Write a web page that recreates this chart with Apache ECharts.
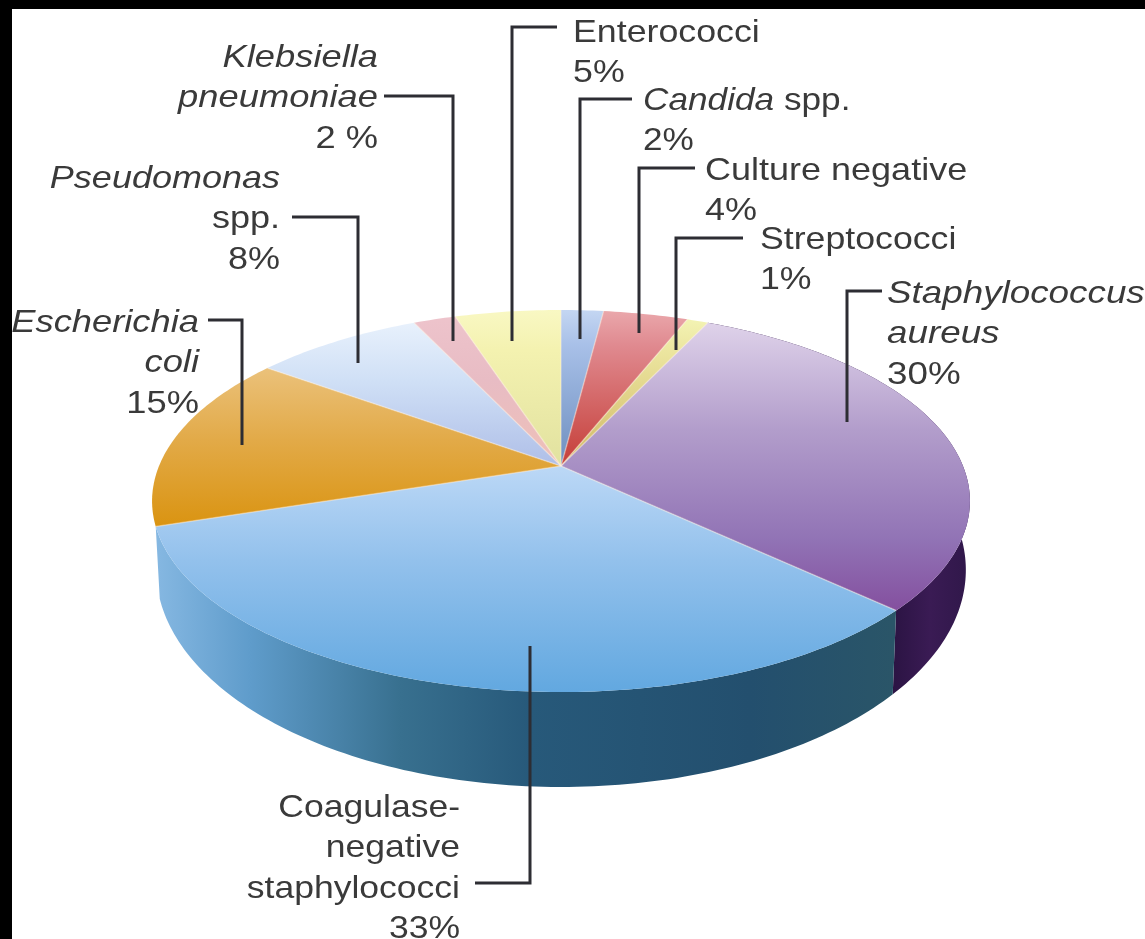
<!DOCTYPE html>
<html>
<head>
<meta charset="utf-8">
<style>html,body{margin:0;padding:0;background:#000}#c{width:1145px;height:939px;filter:blur(0.7px)}</style>
<script src="https://cdn.jsdelivr.net/npm/echarts@6/dist/echarts.min.js"></script>
</head>
<body>
<div id="c"></div>
<script>
// ---- data, clockwise from 12 o'clock ----
const categories = ['Candida spp.', 'Culture negative', 'Streptococci', 'Staphylococcus aureus',
  'Coagulase-negative staphylococci', 'Escherichia coli', 'Pseudomonas spp.', 'Klebsiella pneumoniae', 'Enterococci'];
const shares = [2, 4, 1, 30, 33, 15, 8, 2, 5];
const labelTexts = [
  '{i|Candida} {n|spp.}\n{n|2%}',
  '{n|Culture negative}\n{n|4%}',
  '{n|Streptococci}\n{n|1%}',
  '{i|Staphylococcus}\n{i|aureus}\n{n|30%}',
  '{n|Coagulase-}\n{n|negative}\n{n|staphylococci}\n{n|33%}',
  '{i|Escherichia}\n{i|coli}\n{n|15%}',
  '{i|Pseudomonas}\n{n|spp.}\n{n|8%}',
  '{i|Klebsiella}\n{i|pneumoniae}\n{n|2 %}',
  '{n|Enterococci}\n{n|5%}'
];

// ---- styles ----
const topStops = [
  [[310,'#c4d6f2'],[345,'#a8c0e8'],[462,'#6f90c0']],
  [[310,'#eaa8ac'],[345,'#e08a90'],[462,'#c6403a']],
  [[318,'#f3f3b4'],[350,'#ece6a0'],[462,'#d0b868']],
  [[322,'#dfd3ea'],[430,'#b29dcb'],[540,'#9173b5'],[610,'#84509f']],
  [[466,'#bcd8f6'],[560,'#93c1ec'],[692,'#62a8e0']],
  [[366,'#ebc27c'],[440,'#e2aa48'],[525,'#da9412']],
  [[322,'#e8f1fc'],[380,'#d0e0f6'],[462,'#b0c0e8']],
  [[312,'#eec4cc'],[380,'#e8bcc4'],[462,'#eec0b8']],
  [[308,'#f9f8c4'],[350,'#f4f2b0'],[462,'#e2e2a0']]
];
const sideStops = [null, null, null,
  [[890,'#2a1342'],[930,'#3a1b54'],[972,'#2f1749']],
  [[155,'#86b8e2'],[250,'#5f9ccb'],[400,'#38708f'],[530,'#27597a'],[750,'#234f6e'],[892,'#2a5568']],
  null, null, null, null];

// ---- projection of the tilted disc ----
const disc = {cx: 561, cy: 466, a: 402, b: 184.6, p: 0.1833};
const rim = {scaleX: 0.99, scaleY: 1.136, drop: 64.2};
function project(deg) {
  const t = deg * Math.PI / 180, u = Math.sin(t), v = Math.cos(t), w = 1 + disc.p * v;
  return [disc.cx + disc.a * u / w, disc.cy - disc.b * v / w];
}
function lower(pt) {
  return [disc.cx + (pt[0] - disc.cx) * rim.scaleX, disc.cy + (pt[1] - disc.cy) * rim.scaleY + rim.drop];
}
function arc(a0, a1) {
  const pts = [], n = Math.max(2, Math.ceil(Math.abs(a1 - a0)));
  for (let i = 0; i <= n; i++) pts.push(project(a0 + (a1 - a0) * i / n));
  return pts;
}
const total = shares.reduce((s, x) => s + x, 0);
const starts = shares.reduce((acc, x, i) => { acc.push((i ? acc[i - 1] : 0) + (i ? shares[i - 1] : 0)); return acc; }, []);
function vGrad(stops) {
  const y0 = stops[0][0], y1 = stops[stops.length - 1][0];
  return {type: 'linear', global: true, x: 0, y: y0, x2: 0, y2: y1,
    colorStops: stops.map(s => ({offset: (s[0] - y0) / (y1 - y0), color: s[1]}))};
}
function hGrad(stops) {
  const x0 = stops[0][0], x1 = stops[stops.length - 1][0];
  return {type: 'linear', global: true, x: x0, y: 0, x2: x1, y2: 0,
    colorStops: stops.map(s => ({offset: (s[0] - x0) / (x1 - x0), color: s[1]}))};
}
function renderSide(params, api) {
  const i = params.dataIndex;
  if (!sideStops[i]) return {type: 'group', children: []};
  const a0 = starts[i] / total * 360, a1 = a0 + api.value(1) / total * 360;
  const t = arc(a0, a1);
  const pts = t.concat(t.slice().reverse().map(lower));
  return {type: 'polygon', shape: {points: pts}, style: {fill: hGrad(sideStops[i])}};
}
function renderTop(params, api) {
  const i = params.dataIndex;
  const a0 = starts[i] / total * 360, a1 = a0 + api.value(1) / total * 360;
  const pts = [[disc.cx, disc.cy]].concat(arc(a0, a1));
  return {type: 'polygon', shape: {points: pts}, style: {fill: vGrad(topStops[i])}};
}
function renderSeam(params) {
  const a0 = starts[params.dataIndex] / total * 360;
  return {type: 'polyline', shape: {points: [[disc.cx, disc.cy], project(a0)]},
    style: {stroke: 'rgba(255,240,225,0.4)', lineWidth: 1.5, fill: 'none'}};
}

// ---- annotation layout: [anchor x, first baseline, align, horizontal stretch] and leader polylines ----
const fontSize = 32, lineGap = 40.3;
const labelPlaces = [
  [643,108,'left',1.1],[705,178,'left',1.125],[760,247,'left',1.115],[887,301,'left',1.15],
  [460,815,'right',1.11],[199,330,'right',1.135],[280,186,'right',1.125],[378,65,'right',1.135],[573,40,'left',1.117]
];
const leaders = [
  [[632,99],[580,99],[580,339]],
  [[695,168],[639,168],[639,333]],
  [[743,238],[676,238],[676,350]],
  [[882,291],[847,291],[847,422]],
  [[475,883],[530,883],[530,646]],
  [[208,320],[242,320],[242,445]],
  [[292,217],[358,217],[358,363]],
  [[384,96],[453,96],[453,341]],
  [[557,27],[512,27],[512,341]]
];
const textFill = '#3a3a3a', leaderColor = '#2d2d33';
const textFont = '"Liberation Sans", Arial, sans-serif';

const graphics = [
  {type: 'rect', z: -10, silent: true, shape: {x: 12, y: 9, width: 1133, height: 930}, style: {fill: '#fff'}}
];
labelTexts.forEach((txt, i) => {
  const p = labelPlaces[i];
  graphics.push({
    type: 'text', z: 20, x: p[0], y: p[1] - 0.72 * fontSize - 4, scaleX: p[3],
    style: {
      text: txt, align: p[2], verticalAlign: 'top', fill: textFill, fontFamily: textFont,
      fontSize: fontSize, lineHeight: lineGap,
      rich: {
        i: {fontStyle: 'italic', fontSize: fontSize, lineHeight: lineGap, fill: textFill, fontFamily: textFont},
        n: {fontSize: fontSize, lineHeight: lineGap, fill: textFill, fontFamily: textFont}
      }
    }
  });
});
leaders.forEach(l => graphics.push({
  type: 'polyline', z: 15, silent: true, shape: {points: l},
  style: {stroke: leaderColor, lineWidth: 3, fill: 'none', lineJoin: 'miter'}
}));

const rows = categories.map((c, i) => ({name: c, value: [i, shares[i]]}));
const chart = echarts.init(document.getElementById('c'), null, {renderer: 'canvas'});
chart.setOption({
  backgroundColor: '#000',
  animation: false,
  graphic: {elements: graphics},
  series: [
    {type: 'custom', coordinateSystem: 'none', z: 2, silent: true, renderItem: renderSide, data: rows},
    {type: 'custom', coordinateSystem: 'none', z: 3, silent: true, renderItem: renderTop, data: rows},
    {type: 'custom', coordinateSystem: 'none', z: 4, silent: true, renderItem: renderSeam, data: rows}
  ]
});
</script>
</body>
</html>
